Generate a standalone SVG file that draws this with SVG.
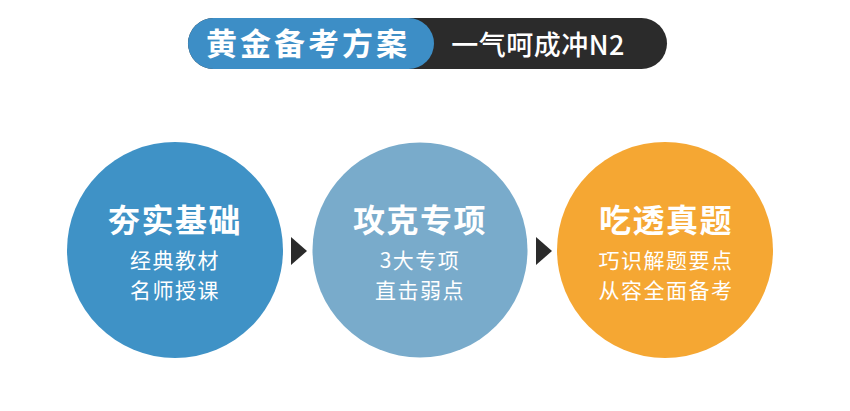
<svg xmlns="http://www.w3.org/2000/svg" width="850" height="411" viewBox="0 0 850 411">
<style>
.t{font-family:"Noto Sans CJK SC","Noto Sans",sans-serif;fill:#fff;text-anchor:middle}
.h{font-size:32px;font-weight:bold;letter-spacing:1.5px}
.s{font-size:21px;letter-spacing:1.5px}
</style>
<rect width="850" height="411" fill="#fff"/>
<g id="header">
<rect x="188" y="18" width="479" height="51" rx="25.5" fill="#2b2b2b"/>
<rect x="188" y="18" width="246" height="51" rx="25.5" fill="#3d8ec6"/>
<text class="t" x="308" y="55" style="font-size:31px;font-weight:bold;letter-spacing:3px">黄金备考方案</text>
<text class="t" x="538" y="55" style="font-size:27px;font-weight:500;letter-spacing:0.5px">一气呵成冲N2</text>
</g>
<g id="connectors" fill="#2b2b2b">
<polygon points="291,237 307,251 291,265"/>
<polygon points="536,237 552,251 536,265"/>
</g>
<g id="node1">
<circle cx="175" cy="250" r="108" fill="#3f92c6"/>
<text class="t h" x="175" y="232">夯实基础</text>
<text class="t s" x="175" y="268">经典教材</text>
<text class="t s" x="175" y="298">名师授课</text>
</g>
<g id="node2">
<circle cx="420" cy="250" r="107.5" fill="#79abcb"/>
<text class="t h" x="420" y="232">攻克专项</text>
<text class="t s" x="420" y="268">3大专项</text>
<text class="t s" x="420" y="298">直击弱点</text>
</g>
<g id="node3">
<circle cx="665" cy="250" r="108" fill="#f5a733"/>
<text class="t h" x="666" y="232">吃透真题</text>
<text class="t s" x="666" y="268">巧识解题要点</text>
<text class="t s" x="666" y="298">从容全面备考</text>
</g>
</svg>
